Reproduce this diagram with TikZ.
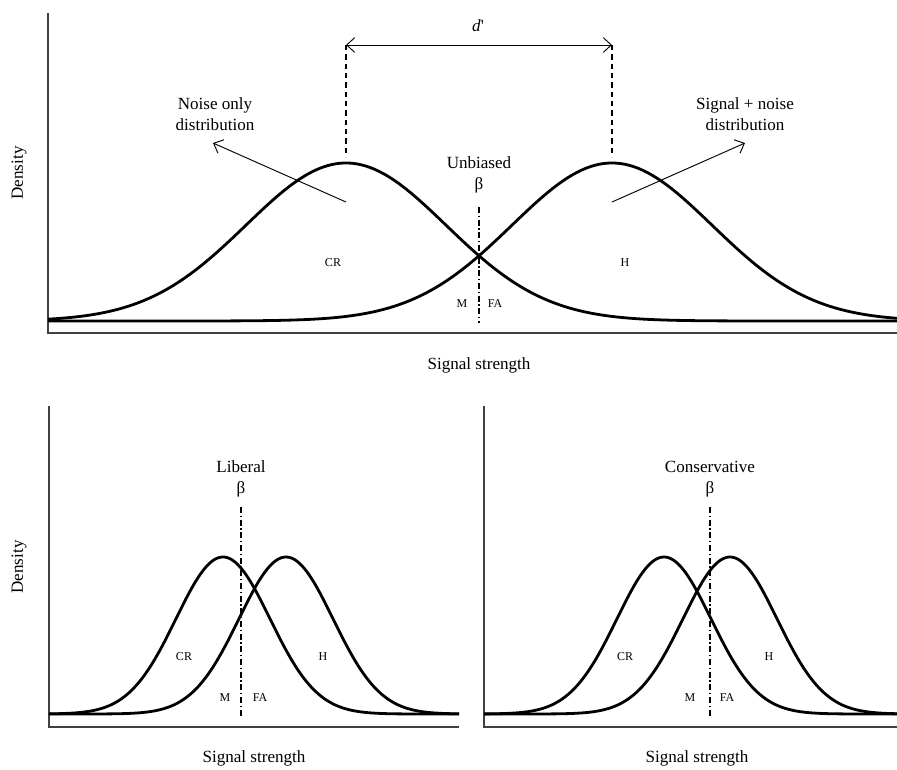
\documentclass[tikz,border=0pt]{standalone}
\usepackage{fontspec}
\setmainfont{Liberation Serif}
\usetikzlibrary{arrows.meta}
\begin{document}
\begin{tikzpicture}[x=0.75pt,y=-0.75pt,
  curve/.style={line width=2.1pt, line join=round},
  axisline/.style={line width=0.8pt, draw=black!75},
  critline/.style={line width=0.8pt, dash pattern=on 4.5pt off 2pt on 1pt off 2pt},
  guideline/.style={line width=0.8pt, dash pattern=on 4pt off 3pt},
  pointer/.style={line width=0.7pt, -{Straight Barb[length=6pt,width=11pt]}},
  lbl/.style={font=\fontsize{12.8}{15.5}\selectfont, align=center, inner sep=0pt},
  small/.style={font=\fontsize{9}{10}\selectfont, inner sep=0pt}]
\useasboundingbox (0,0) rectangle (897,769);

% ---------- top panel ----------
\draw[axisline] (48,13) -- (48,333) -- (897,333);
\draw[curve] plot[domain=48:897, samples=220, smooth] (\x, {321-158*exp(-0.5*((\x-346)/100)^2)});
\draw[curve] plot[domain=48:897, samples=220, smooth] (\x, {321-158*exp(-0.5*((\x-612)/100)^2)});

\coordinate (npk) at (346,45);
\coordinate (spk) at (612,45);
\coordinate (ntop) at (346,157);
\coordinate (stop) at (612,157);
\draw[guideline] (npk) -- (ntop);
\draw[guideline] (spk) -- (stop);
\draw[line width=0.7pt, {Straight Barb[length=6pt,width=11pt]}-{Straight Barb[length=6pt,width=11pt]}] (npk) -- (spk);
\node[lbl] (dprime) at (478,26) {\textit{d}\textquotesingle};

\node[lbl] (noiselbl) at (215,114) {Noise only\\distribution};
\node[lbl] (signallbl) at (745,114) {Signal + noise\\distribution};
\coordinate (nfrom) at (346,202);
\coordinate (nto) at (213,143);
\coordinate (sfrom) at (612,202);
\coordinate (sto) at (745,143);
\draw[pointer] (nfrom) -- (nto);
\draw[pointer] (sfrom) -- (sto);

\node[lbl] (unb) at (479,175) {Unbiased\\β};
\coordinate (c1a) at (479,207);
\coordinate (c1b) at (479,323);
\draw[critline] (c1a) -- (c1b);

\node[small] (cr1) at (333,263) {CR};
\node[small] (h1) at (625,263) {H};
\node[small] (m1) at (462,304) {M};
\node[small] (fa1) at (495,304) {FA};

\node[lbl, rotate=90] (dens1) at (19,173) {Density};
\node[lbl] (ss1) at (479,365) {Signal strength};

% ---------- bottom left panel ----------
\draw[axisline] (49,406) -- (49,727) -- (459,727);
\draw[curve] plot[domain=49:459, samples=160, smooth] (\x, {714-157*exp(-0.5*((\x-223)/47)^2)});
\draw[curve] plot[domain=49:459, samples=160, smooth] (\x, {714-157*exp(-0.5*((\x-286)/47)^2)});
\node[lbl] (lib) at (241,479) {Liberal\\β};
\coordinate (c2a) at (241,507);
\coordinate (c2b) at (241,716);
\draw[critline] (c2a) -- (c2b);
\node[small] (cr2) at (184,657) {CR};
\node[small] (h2) at (323,657) {H};
\node[small] (m2) at (225,698) {M};
\node[small] (fa2) at (260,698) {FA};
\node[lbl, rotate=90] (dens2) at (19,567) {Density};
\node[lbl] (ss2) at (254,758) {Signal strength};

% ---------- bottom right panel ----------
\draw[axisline] (484,406) -- (484,727) -- (897,727);
\draw[curve] plot[domain=484:897, samples=160, smooth] (\x, {714-157*exp(-0.5*((\x-664)/47)^2)});
\draw[curve] plot[domain=484:897, samples=160, smooth] (\x, {714-157*exp(-0.5*((\x-730)/47)^2)});
\node[lbl] (cons) at (710,479) {Conservative\\β};
\coordinate (c3a) at (710,507);
\coordinate (c3b) at (710,716);
\draw[critline] (c3a) -- (c3b);
\node[small] (cr3) at (625,657) {CR};
\node[small] (h3) at (769,657) {H};
\node[small] (m3) at (690,698) {M};
\node[small] (fa3) at (727,698) {FA};
\node[lbl] (ss3) at (697,758) {Signal strength};
\end{tikzpicture}
\end{document}
